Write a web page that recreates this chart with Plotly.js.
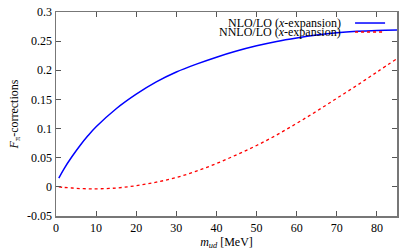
<!DOCTYPE html>
<html><head><meta charset="utf-8">
<script src="https://cdn.plot.ly/plotly-3.0.1.min.js"></script>
<style>html,body{margin:0;padding:0;background:#fff}#chart{width:415px;height:251px}</style>
</head><body><div id="chart"></div>
<script>
const mud = [0.7, 2, 4, 6, 8, 10, 15, 20, 25, 30, 35, 40, 45, 50, 55, 60, 65, 70, 75, 80, 85];
const nloLo = [0.015, 0.031, 0.052, 0.071, 0.088, 0.103, 0.134, 0.159, 0.180, 0.197, 0.2105, 0.2225, 0.233, 0.242, 0.2495, 0.2555, 0.2605, 0.2643, 0.2668, 0.2683, 0.269];
const nnloLo = [0.0, -0.001, -0.002, -0.003, -0.0033, -0.0034, -0.002, 0.002, 0.008, 0.016, 0.027, 0.040, 0.055, 0.071, 0.089, 0.109, 0.130, 0.152, 0.174, 0.197, 0.220];
const xTicks = [0, 10, 20, 30, 40, 50, 60, 70, 80];
const yTicks = [-0.05, 0, 0.05, 0.1, 0.15, 0.2, 0.25, 0.3];
const yTickText = ['-0.05', '0', '0.05', '0.1', '0.15', '0.2', '0.25', '0.3'];
const legendNames = ['NLO/LO (<i>x</i>-expansion)', 'NNLO/LO (<i>x</i>-expansion)'];

const font = {family: 'Liberation Serif, DejaVu Serif, serif', size: 12, color: '#000'};
const traces = [
  {x: mud, y: nloLo, mode: 'lines', line: {color: '#0000ff', width: 1.5, shape: 'spline'}, name: legendNames[0]},
  {x: mud, y: nnloLo, mode: 'lines', line: {color: '#ff0000', width: 1.3, dash: 'dot', shape: 'spline'}, name: legendNames[1]}
];

const colors = ['#0000ff', '#ff0000'];
const dashes = ['solid', 'dot'];
const rowY = [0.946, 0.902];
const annotations = legendNames.map((n, i) => ({
  xref: 'paper', yref: 'paper', x: 0.843, y: rowY[i], xanchor: 'right', yanchor: 'middle',
  text: n, showarrow: false, font: font
}));
const shapes = legendNames.map((n, i) => ({
  type: 'line', xref: 'paper', yref: 'paper', x0: 0.877, x1: 0.965, y0: rowY[i], y1: rowY[i],
  line: {color: colors[i], width: 1.5, dash: dashes[i]}
}));

const axisCommon = {
  showgrid: false, zeroline: false, showline: true, linecolor: '#777', linewidth: 1.5,
  mirror: 'ticks', ticks: 'inside', ticklen: 5, tickcolor: '#555', tickwidth: 1,
  tickfont: font
};
const layout = {
  width: 415, height: 251,
  margin: {l: 56, r: 18, t: 12, b: 35},
  paper_bgcolor: '#fff', plot_bgcolor: '#fff',
  showlegend: false,
  font: font,
  xaxis: Object.assign({}, axisCommon, {
    range: [0, 85], tickvals: xTicks, ticktext: xTicks.map(String),
    title: {text: '<i>m</i><sub><i>ud</i></sub> [MeV]', font: font, standoff: 3}
  }),
  yaxis: Object.assign({}, axisCommon, {
    range: [-0.05, 0.3], tickvals: yTicks, ticktext: yTickText,
    title: {text: '<i>F</i><sub>π</sub>-corrections', font: font, standoff: 6}
  }),
  annotations: annotations,
  shapes: shapes
};
Plotly.newPlot('chart', traces, layout, {displayModeBar: false, staticPlot: true});
</script>
</body></html>
